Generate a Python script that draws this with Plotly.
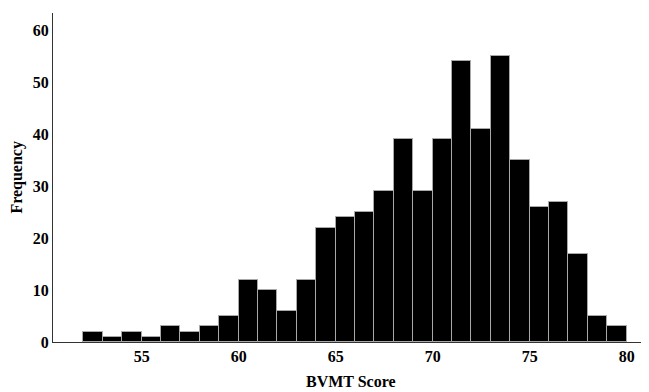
import plotly.graph_objects as go

bin_starts = list(range(52, 80))
counts = [2, 1, 2, 1, 3, 2, 3, 5, 12, 10, 6, 12, 22, 24, 25, 29, 39, 29, 39, 54, 41, 55, 35, 26, 27, 17, 5, 3]
x_ticks = [55, 60, 65, 70, 75, 80]
y_ticks = [0, 10, 20, 30, 40, 50, 60]

centers = [b + 0.5 for b in bin_starts]

font = dict(family="Liberation Serif, Times New Roman, serif", size=16, color="black")

fig = go.Figure(go.Bar(
    x=centers, y=counts, width=1,
    marker=dict(color="black", line=dict(color="#a8a8a8", width=1)),
    hoverinfo="x+y",
))

fig.update_layout(
    width=641, height=384,
    margin=dict(l=45, r=1, t=5, b=50),
    plot_bgcolor="white", paper_bgcolor="white",
    showlegend=False, bargap=0,
    font=font,
    annotations=[
        dict(text="<b>BVMT Score</b>", xref="paper", yref="paper", x=0.5, y=-0.088,
             xanchor="center", yanchor="top", showarrow=False, font=font),
        dict(text="<b>Frequency</b>", xref="paper", yref="paper", x=-0.062, y=0.5,
             xanchor="center", yanchor="middle", textangle=-90, showarrow=False, font=font),
    ],
)
fig.update_xaxes(
    range=[50.43, 81.1], tickvals=x_ticks, ticktext=[f"<b>{v}</b>" for v in x_ticks],
    showline=True, linecolor="#333333", linewidth=1, showgrid=False, zeroline=False,
    ticks="", ticklen=0, automargin=False,
)
fig.update_yaxes(
    range=[0, 63.3], tickvals=y_ticks, ticktext=[f"<b>{v}</b>" for v in y_ticks],
    showline=True, linecolor="#333333", linewidth=1, showgrid=False, zeroline=False,
    ticks="", ticklen=0, automargin=False,
)
fig.write_html("out.html")
